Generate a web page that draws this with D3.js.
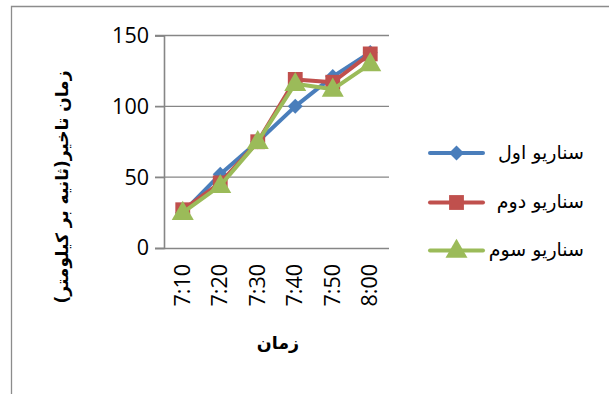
<!DOCTYPE html>
<html>
<head>
<meta charset="utf-8">
<script src="https://cdn.jsdelivr.net/npm/d3@7"></script>
<style>
  html, body { margin: 0; padding: 0; background: #fff; }
  svg { display: block; }
</style>
</head>
<body>
<svg id="chart" width="609" height="394"></svg>
<script>
// Categories (time of day) and delay values per scenario
const categories = ["7:10", "7:20", "7:30", "7:40", "7:50", "8:00"];
const scenario1 = [25, 52, 75, 100, 121, 138];
const scenario2 = [27, 46, 75, 119, 117, 137];
const scenario3 = [25, 44, 75, 116, 112, 130];
const seriesNames = ["سناریو اول", "سناریو دوم", "سناریو سوم"];
const yTicks = [0, 50, 100, 150];
const xTitle = "زمان";
const yTitle = "زمان تاخیر(ثانیه بر کیلومتر)";

const colors = ["#4a7ebb", "#c0504d", "#9bbb59"];

// marker generators: rotated square (diamond), square, triangle
const markerPath = [
  d3.symbol().type(d3.symbolSquare).size(112)(),
  d3.symbol().type(d3.symbolSquare).size(220)(),
  d3.symbol().type(d3.symbolTriangle).size(210)()
];
const markerRotate = [45, 0, 0];
const markerShift = [0, 0, 1];

const svg = d3.select("#chart");

// outer frame of the chart area
svg.append("path")
  .attr("d", "M11.5,400 L11.5,6.5 L620,6.5")
  .attr("fill", "none").attr("stroke", "#8c8c8c").attr("stroke-width", 1.3);

const plot = { left: 164, right: 389, top: 35.5, bottom: 248 };

const x = d3.scaleBand().domain(categories).range([plot.left, plot.right]);
const y = d3.scaleLinear().domain([0, 150]).range([plot.bottom, plot.top]);

// horizontal gridlines extending past the axis as tick marks
svg.append("g").selectAll("line").data(yTicks.filter(t => t > 0)).join("line")
  .attr("x1", plot.left - 9).attr("x2", plot.right)
  .attr("y1", d => y(d)).attr("y2", d => y(d))
  .attr("stroke", "#868686").attr("stroke-width", 1.3);

// y axis
const yAxis = svg.append("g")
  .attr("transform", `translate(${plot.left},0)`)
  .call(d3.axisLeft(y).tickValues(yTicks).tickSize(9).tickPadding(6));
yAxis.select(".domain").attr("stroke", "#868686").attr("stroke-width", 1.6);
yAxis.selectAll(".tick line").attr("stroke", "#868686").attr("stroke-width", 1.3);
yAxis.selectAll("text")
  .attr("font-family", "'Open Sans', sans-serif")
  .attr("font-size", 21.5).attr("fill", "#000");

// x axis
const xAxis = svg.append("g")
  .attr("transform", `translate(0,${plot.bottom})`)
  .call(d3.axisBottom(x).tickSize(0).tickPadding(0));
xAxis.select(".domain").attr("d", `M${plot.left - 9},0.5H${plot.right}`)
  .attr("stroke", "#868686").attr("stroke-width", 1.6);
xAxis.selectAll("text")
  .attr("font-family", "'Open Sans', sans-serif")
  .attr("font-size", 21.5).attr("fill", "#000")
  .attr("text-anchor", "end")
  .attr("dy", null).attr("y", null)
  .attr("transform", "translate(7,16) rotate(-90)");

// series lines and markers
const allSeries = [scenario1, scenario2, scenario3];
const cx = i => x(categories[i]) + x.bandwidth() / 2;
const line = d3.line().x((d, i) => cx(i)).y(d => y(d));

allSeries.forEach((vals, s) => {
  const g = svg.append("g");
  g.append("path").datum(vals)
    .attr("d", line).attr("fill", "none")
    .attr("stroke", colors[s]).attr("stroke-width", 4)
    .attr("stroke-linejoin", "round");
  g.selectAll("path.m").data(vals).join("path").attr("class", "m")
    .attr("d", markerPath[s])
    .attr("transform", (d, i) =>
      `translate(${cx(i)},${y(d) + markerShift[s]}) rotate(${markerRotate[s]})`)
    .attr("fill", colors[s]);
});

// legend
const legend = svg.append("g");
const legendRows = [153, 202.5, 250.5];
seriesNames.forEach((name, s) => {
  const ly = legendRows[s];
  legend.append("line")
    .attr("x1", 430).attr("x2", 483).attr("y1", ly).attr("y2", ly)
    .attr("stroke", colors[s]).attr("stroke-width", 4).attr("stroke-linecap", "round");
  legend.append("path")
    .attr("d", markerPath[s])
    .attr("transform", `translate(456.5,${ly + markerShift[s]}) rotate(${markerRotate[s]})`)
    .attr("fill", colors[s]);
  legend.append("text")
    .attr("x", 584).attr("y", ly).attr("dy", "0.3em")
    .attr("text-anchor", "end")
    .attr("font-family", "'DejaVu Sans', sans-serif")
    .attr("font-size", 19).attr("fill", "#000")
    .text(name);
});

// axis titles
svg.append("text")
  .attr("x", 278).attr("y", 349)
  .attr("text-anchor", "middle")
  .attr("font-family", "'DejaVu Sans', sans-serif")
  .attr("font-weight", "bold").attr("font-size", 17.5)
  .text(xTitle);

svg.append("text")
  .attr("transform", "translate(68,187) rotate(-90)")
  .attr("text-anchor", "middle")
  .attr("font-family", "'DejaVu Sans', sans-serif")
  .attr("font-weight", "bold").attr("font-size", 17)
  .text(yTitle);
</script>
</body>
</html>
